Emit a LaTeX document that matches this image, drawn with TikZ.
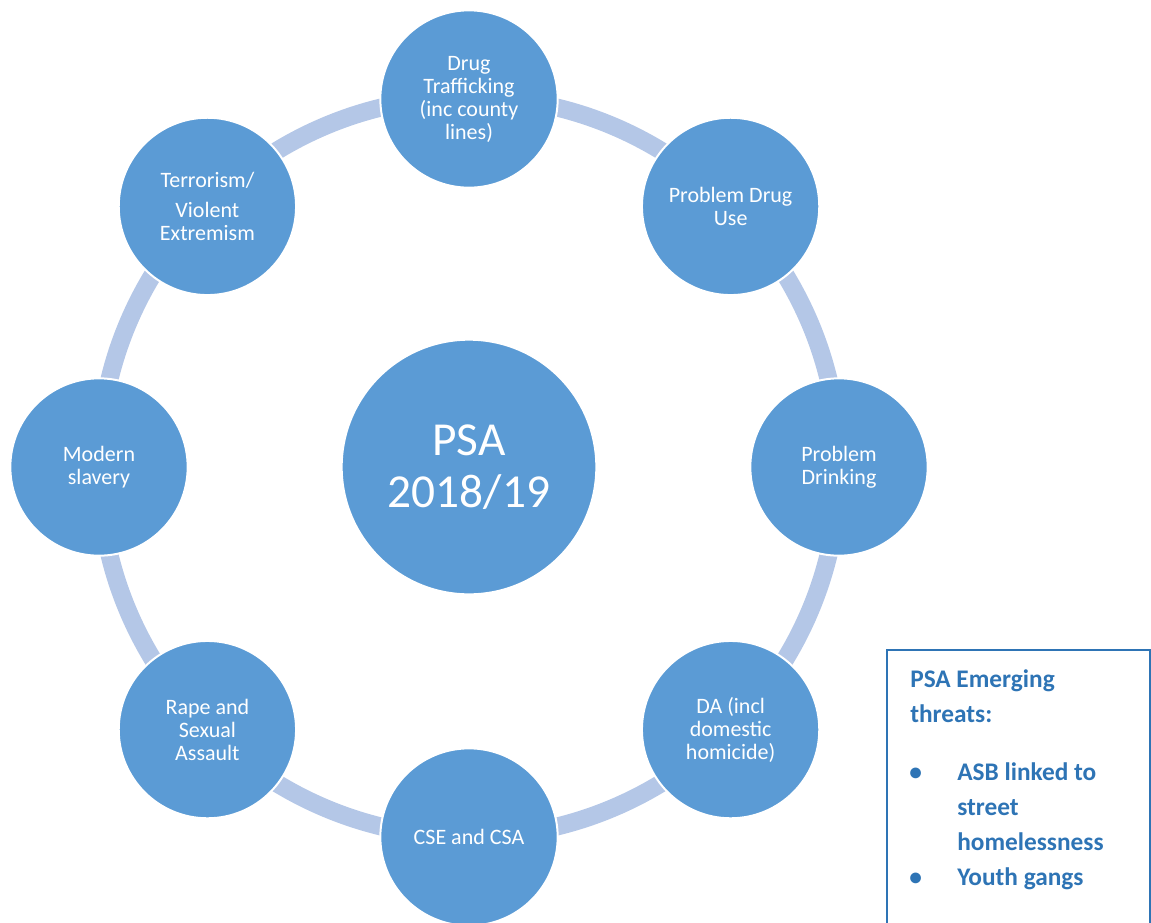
\documentclass[tikz,border=0pt]{standalone}
\usepackage{fontspec}
\setmainfont{Carlito}
\usepackage{tikz}
\definecolor{psablue}{RGB}{91,155,213}
\definecolor{ringblue}{RGB}{180,199,231}
\definecolor{boxblue}{RGB}{46,116,181}
\tikzset{
  ring/.style={draw=ringblue, line width=13.5pt},
  hub/.style={circle, fill=psablue, draw=white, line width=1.5pt, minimum size=191pt, inner sep=0pt, text=white, align=center, font=\fontsize{35.5}{39}\selectfont},
  spoke/.style={circle, fill=psablue, draw=white, line width=1.5pt, minimum size=133pt, inner sep=0pt, text=white, align=center, font=\fontsize{16.5}{17.25}\selectfont},
  threatline/.style={draw=boxblue, line width=2pt},
  threattext/.style={text=boxblue, inner sep=0pt, align=left, font=\bfseries\fontsize{19}{26.25}\selectfont}
}

\begin{document}
\begin{tikzpicture}[x=0.75pt,y=0.75pt,yscale=-1,xscale=1]
\useasboundingbox (0,0) rectangle (1151,922);
\node (hub) [hub] at (469,467) {PSA\\2018/19};
\draw [ring] (hub) circle [radius=370];
\node (hub) [hub] at (469,467) {PSA\\2018/19};
\node (traff) [spoke] at (469,99) {Drug\\Trafficking\\(inc county\\lines)};
\node (druguse) [spoke] at (730.6,206.4) {Problem Drug\\Use};
\node (drink) [spoke] at (839,467) {Problem\\Drinking};
\node (da) [spoke] at (730.6,729.6) {DA (incl\\domestic\\homicide)};
\node (cse) [spoke] at (469,837) {CSE and CSA};
\node (rape) [spoke] at (207.4,729.6) {Rape and\\Sexual\\Assault};
\node (slavery) [spoke] at (99,467) {Modern\\slavery};
\node (terror) [spoke] at (207.4,206.4) {Terrorism/\\[5pt]Violent\\Extremism};
% emerging threats box
\draw [threatline] (887,650) rectangle (1150,940);
\node (title) [threattext, anchor=base west] at (910,722) {PSA Emerging\\threats:};
\node (dot1) [threattext, anchor=base west] at (909,780) {\textbullet};
\node (asb) [threattext, anchor=base west] at (957,850) {ASB linked to\\street\\homelessness};
\node (dot2) [threattext, anchor=base west] at (909,885) {\textbullet};
\node (gangs) [threattext, anchor=base west] at (957,885) {Youth gangs};
\end{tikzpicture}
\end{document}
